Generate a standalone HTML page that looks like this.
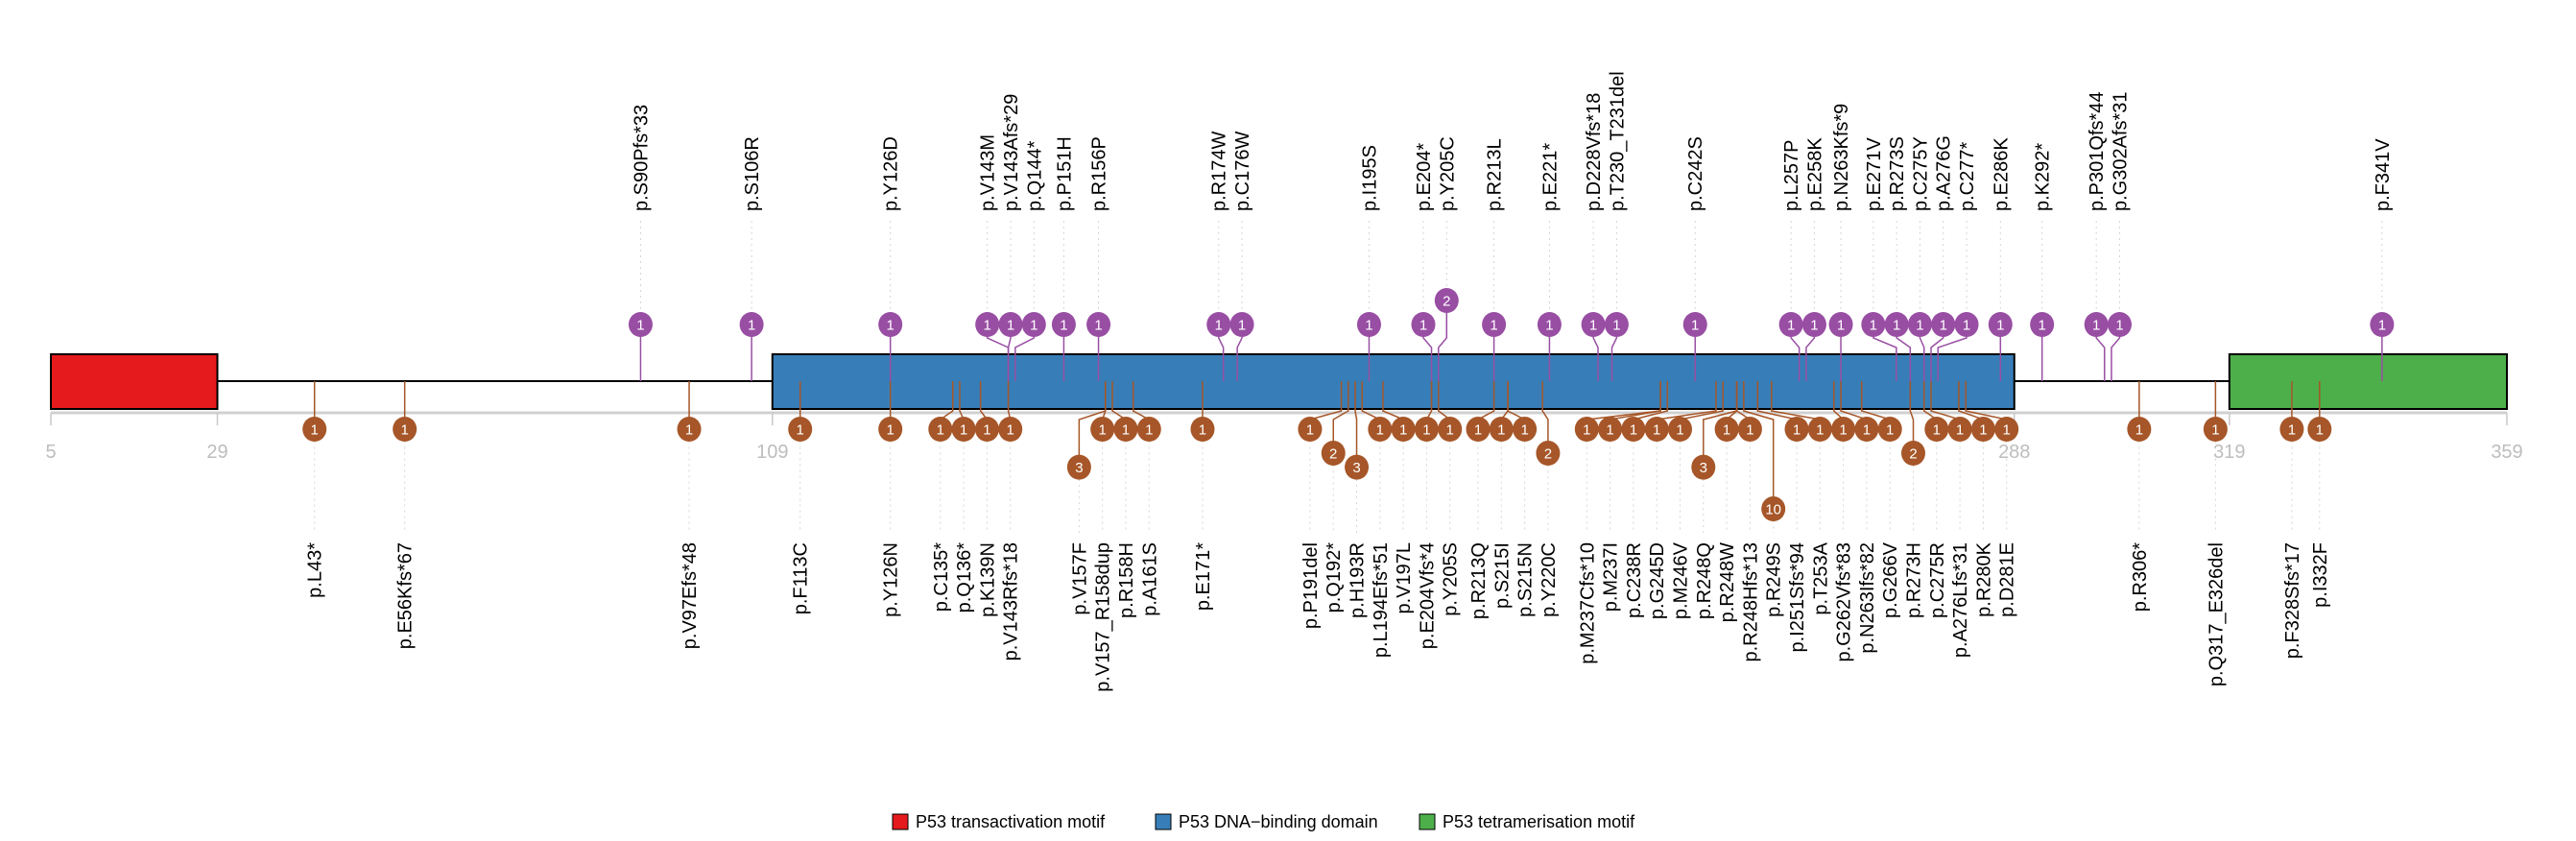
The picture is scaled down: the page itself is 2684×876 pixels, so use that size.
<!DOCTYPE html>
<html><head><meta charset="utf-8"><style>
html,body{margin:0;padding:0;background:#fff;}
svg{display:block;font-family:"Liberation Sans",Arial,sans-serif;}
</style></head><body>
<svg id="chart" width="2684" height="876" viewBox="0 0 2684 876" xmlns="http://www.w3.org/2000/svg">
<g id="guides"></g>
<line x1="53" y1="397" x2="2612" y2="397" stroke="#000" stroke-width="2"/>
<g id="domains"></g>
<g id="axis"></g>
<g id="stems"></g>
<g id="marks"></g>
<g id="labels"></g>
<g id="legend"></g>
</svg>
<script>
const domainNames = ["P53 transactivation motif","P53 DNA\u2212binding domain","P53 tetramerisation motif"];
const domainStart = [5,109,319];
const domainEnd = [29,288,359];
const domainColors = ["#E41A1C","#377EB8","#4DAF4A"];
const axisTicks = [5,29,109,288,319,359];

const topPos = [90,106,126,143,143,144,151,156,174,176,195,204,205,213,221,228,230,242,257,258,263,271,273,275,276,277,286,292,301,302,341];
const topLab = ["p.S90Pfs*33","p.S106R","p.Y126D","p.V143M","p.V143Afs*29","p.Q144*","p.P151H","p.R156P","p.R174W","p.C176W","p.I195S","p.E204*","p.Y205C","p.R213L","p.E221*","p.D228Vfs*18","p.T230_T231del","p.C242S","p.L257P","p.E258K","p.N263Kfs*9","p.E271V","p.R273S","p.C275Y","p.A276G","p.C277*","p.E286K","p.K292*","p.P301Qfs*44","p.G302Afs*31","p.F341V"];
const topCnt = [1,1,1,1,1,1,1,1,1,1,1,1,2,1,1,1,1,1,1,1,1,1,1,1,1,1,1,1,1,1,1];

const botPos = [43,56,97,113,126,135,136,139,143,157,157,158,161,171,191,192,193,194,197,204,205,213,215,215,220,237,237,238,245,246,248,248,248,249,251,253,262,263,266,273,275,276,280,281,306,317,328,332];
const botLab = ["p.L43*","p.E56Kfs*67","p.V97Efs*48","p.F113C","p.Y126N","p.C135*","p.Q136*","p.K139N","p.V143Rfs*18","p.V157F","p.V157_R158dup","p.R158H","p.A161S","p.E171*","p.P191del","p.Q192*","p.H193R","p.L194Efs*51","p.V197L","p.E204Vfs*4","p.Y205S","p.R213Q","p.S215I","p.S215N","p.Y220C","p.M237Cfs*10","p.M237I","p.C238R","p.G245D","p.M246V","p.R248Q","p.R248W","p.R248Hfs*13","p.R249S","p.I251Sfs*94","p.T253A","p.G262Vfs*83","p.N263Ifs*82","p.G266V","p.R273H","p.C275R","p.A276Lfs*31","p.R280K","p.D281E","p.R306*","p.Q317_E326del","p.F328Sfs*17","p.I332F"];
const botCnt = [1,1,1,1,1,1,1,1,1,3,1,1,1,1,1,2,3,1,1,1,1,1,1,1,2,1,1,1,1,1,3,1,1,10,1,1,1,1,1,2,1,1,1,1,1,1,1,1];

const NS = "http://www.w3.org/2000/svg";
const X0 = 53, X1 = 2612, A0 = 5, A1 = 359;
function xs(a){ return X0 + (a - A0) * (X1 - X0) / (A1 - A0); }
function mk(tag, attrs, parent){ const e = document.createElementNS(NS, tag); for (const k in attrs) e.setAttribute(k, attrs[k]); parent.appendChild(e); return e; }
function spread(vals, s){
  const y = vals.map((v,i)=>v - i*s);
  const blocks = [];
  y.forEach(v=>{ blocks.push({sum:v,n:1}); while(blocks.length>1 && blocks[blocks.length-2].sum/blocks[blocks.length-2].n > blocks[blocks.length-1].sum/blocks[blocks.length-1].n){ const b=blocks.pop(); blocks[blocks.length-1].sum+=b.sum; blocks[blocks.length-1].n+=b.n; } });
  const out = []; blocks.forEach(b=>{ for(let k=0;k<b.n;k++) out.push(b.sum/b.n); });
  return out.map((v,i)=>v + i*s);
}
function lvl(c){ return 25 * Math.log2(c); }

const gDom = document.getElementById('domains');
domainStart.forEach((s,i)=>{
  const r = mk('rect',{x:xs(s),y:369,width:xs(domainEnd[i])-xs(s),height:57,fill:domainColors[i],stroke:'#000','stroke-width':2},gDom);
  
  
});
const gAx = document.getElementById('axis');
const al = mk('line',{x1:X0,y1:430,x2:X1,y2:430,stroke:'#d0d0d0','stroke-width':3},gAx);


axisTicks.forEach(t=>{
  const tk = mk('line',{x1:xs(t),y1:430,x2:xs(t),y2:443,stroke:'#c8c8c8','stroke-width':1.5},gAx);
  
  
  const tl = mk('text',{x:xs(t),y:477,'text-anchor':'middle','font-size':20,fill:'#bdbdbd'},gAx);
  tl.textContent = t;
  
  
});

const gG = document.getElementById('guides'), gS = document.getElementById('stems'), gM = document.getElementById('marks'), gL = document.getElementById('labels');
function track(pos, lab, cnt, up, color){
  const cxs = spread(pos.map(xs), 24.3);
  pos.forEach((p,i)=>{
    const ax = xs(p), cx = cxs[i];
    const cy = up ? 338 - lvl(cnt[i]) : 447 + lvl(cnt[i]);
    const pth = up
      ? `M${ax},397 L${ax},362 L${cx},352 L${cx},${cy+12.5}`
      : `M${ax},397 L${ax},428 L${cx},437 L${cx},${cy-12.5}`;
    const st = mk('path',{d:pth,fill:'none',stroke:color,'stroke-width':1.5},gS);
    
    
    const gd = up ? mk('line',{x1:cx,y1:230,x2:cx,y2:cy-12.5,stroke:'#d5d5d5','stroke-width':1,'stroke-dasharray':'2,4'},gG)
                  : mk('line',{x1:cx,y1:cy+12.5,x2:cx,y2:555,stroke:'#d5d5d5','stroke-width':1,'stroke-dasharray':'2,4'},gG);
    
    
    const c = mk('ellipse',{cx:cx,cy:cy,rx:12.5,ry:13,fill:color},gM);
    
    
    const ct = mk('text',{x:cx,y:cy+5.5,'text-anchor':'middle','font-size':15,fill:'#fff'},gM);
    ct.textContent = cnt[i];
    
    
    const ly = up ? 220 : 565;
    const t = mk('text',{x:cx,y:ly,dy:'0.35em','text-anchor':up?'start':'end','font-size':20,fill:'#000',transform:`rotate(-90 ${cx} ${ly})`},gL);
    t.textContent = lab[i];
    
    
  });
}
track(topPos, topLab, topCnt, true, '#984EA3');
track(botPos, botLab, botCnt, false, '#A65628');

const gLg = document.getElementById('legend');
const lgX = [930,1204,1479];
domainNames.forEach((n,i)=>{
  const r = mk('rect',{x:lgX[i],y:848,width:16,height:16,fill:domainColors[i],stroke:'#000','stroke-width':1},gLg);
  
  
  const t = mk('text',{x:lgX[i]+24,y:862,'font-size':18,fill:'#000'},gLg);
  t.textContent = n;
  
  
});
</script>
</body></html>
